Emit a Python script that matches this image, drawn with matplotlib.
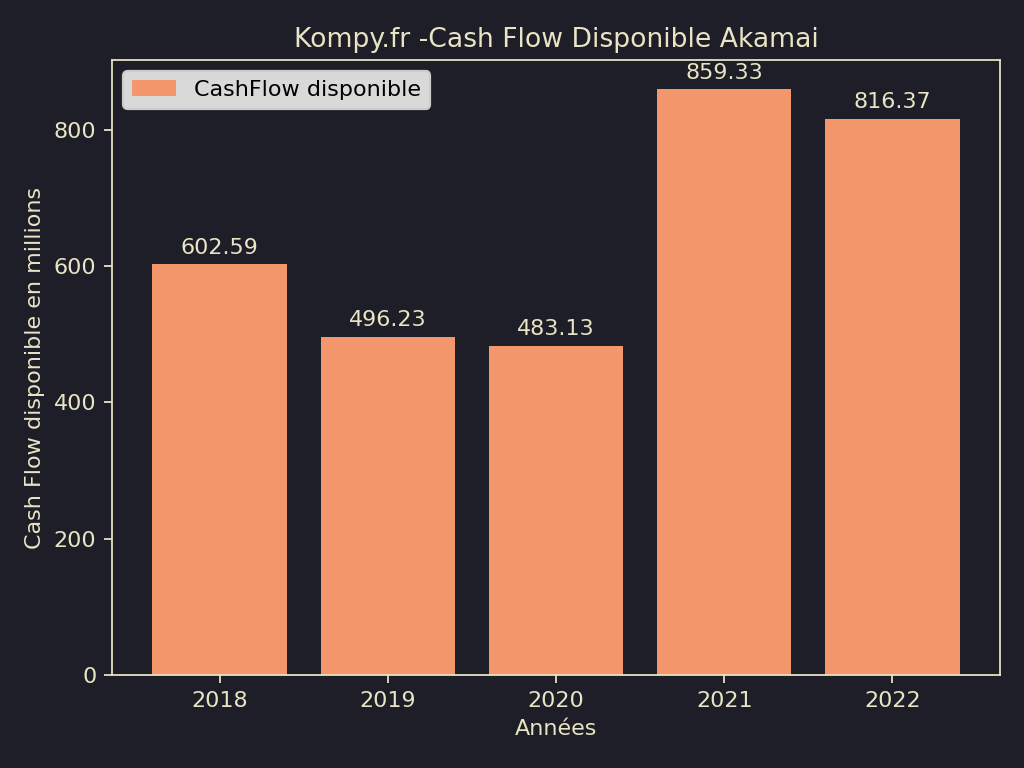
import matplotlib
matplotlib.use("Agg")
import matplotlib.pyplot as plt

years = ["2018", "2019", "2020", "2021", "2022"]
cashflow = [602.59, 496.23, 483.13, 859.33, 816.37]

bg = "#1d1e28"
fg = "#e8e4c4"
bar_color = "#f4976c"

fig, ax = plt.subplots(figsize=(6.4, 4.8), dpi=160)
fig.patch.set_facecolor(bg)
ax.set_facecolor(bg)

bars = ax.bar(years, cashflow, color=bar_color, label="CashFlow disponible")
ax.bar_label(bars, labels=["{:.2f}".format(v) for v in cashflow], padding=3, color=fg)

ax.set_title("Kompy.fr -Cash Flow Disponible Akamai", color=fg)
ax.set_xlabel("Années", color=fg)
ax.set_ylabel("Cash Flow disponible en millions", color=fg)
ax.tick_params(colors=fg)
for s in ax.spines.values():
    s.set_color(fg)

leg = ax.legend(loc="upper left", facecolor="#d9d9d9", framealpha=1)

fig.subplots_adjust(left=0.1094, right=0.9766, top=0.9219, bottom=0.1211)
fig.savefig("out.png", facecolor=bg)
